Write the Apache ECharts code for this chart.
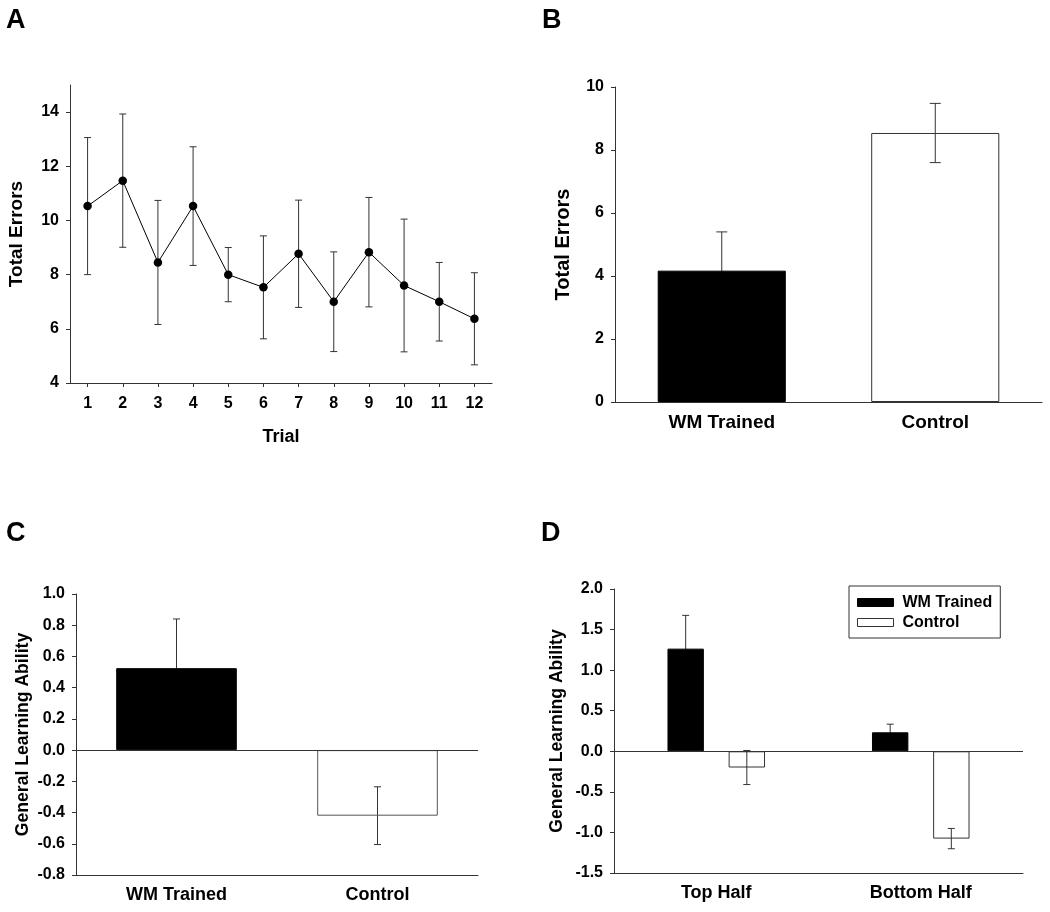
<!DOCTYPE html>
<html>
<head>
<meta charset="utf-8">
<script src="https://cdn.jsdelivr.net/npm/echarts@6/dist/echarts.min.js"></script>
<style>html,body{margin:0;padding:0;background:#fff;}#chart{width:1050px;height:912px;}</style>
</head>
<body>
<div id="chart"></div>
<script>
// ---- Data ----
var trials = ['1','2','3','4','5','6','7','8','9','10','11','12'];
var trialErrors = [10.53, 11.47, 8.45, 10.53, 8.0, 7.53, 8.77, 7.0, 8.83, 7.6, 7.0, 6.37];
var trialSE = [2.53, 2.46, 2.29, 2.19, 1.0, 1.9, 1.98, 1.84, 2.02, 2.45, 1.45, 1.7];
var aTicks = [4, 6, 8, 10, 12, 14];

var groups = ['WM Trained', 'Control'];
var bTotalErrors = [4.17, 8.54];
var bSE = [1.23, 0.94];

var cAbility = [0.525, -0.42];
var cSE = [0.315, 0.185];

var halves = ['Top Half', 'Bottom Half'];
var dWM = [1.265, 0.234];
var dWMSE = [0.41, 0.10];
var dControl = [-0.20, -1.076];
var dControlSE = [0.21, 0.125];

// ---- Styling helpers ----
var FONT = "'Liberation Sans', Arial, Helvetica, sans-serif";
var AX = '#333';
function errData(vals, errs) { return vals.map(function (v, i) { return [i, v, errs[i]]; }); }
function errRender(capHalf, offFrac) {
  return function (params, api) {
    var x = api.value(0), v = api.value(1), e = api.value(2);
    var hi = api.coord([x, v + e]);
    var lo = api.coord([x, v - e]);
    var off = 0;
    if (offFrac) { off = api.size([1, 0])[0] * offFrac; }
    var cx = hi[0] + off;
    var st = { stroke: AX, lineWidth: 1 };
    return {
      type: 'group',
      children: [
        { type: 'line', shape: { x1: cx, y1: hi[1], x2: cx, y2: lo[1] }, style: st },
        { type: 'line', shape: { x1: cx - capHalf, y1: hi[1], x2: cx + capHalf, y2: hi[1] }, style: st },
        { type: 'line', shape: { x1: cx - capHalf, y1: lo[1], x2: cx + capHalf, y2: lo[1] }, style: st }
      ]
    };
  };
}
function merge(base, opt) {
  for (var k in opt) {
    if (typeof opt[k] === 'object' && base[k] && !Array.isArray(opt[k])) {
      for (var j in opt[k]) base[k][j] = opt[k][j];
    } else base[k] = opt[k];
  }
  return base;
}
function valueAxis(gi, opt) {
  return merge({
    type: 'value', gridIndex: gi,
    nameLocation: 'middle', nameRotate: 90,
    nameTextStyle: { fontFamily: FONT, fontWeight: 'bold', fontSize: 18, color: '#000' },
    axisLine: { show: true, lineStyle: { color: AX, width: 1 } },
    axisTick: { show: true, length: 4, lineStyle: { color: AX } },
    axisLabel: { fontFamily: FONT, fontWeight: 'bold', fontSize: 16, color: '#000', margin: 11 },
    splitLine: { show: false }
  }, opt);
}
function catAxis(gi, cats, opt) {
  return merge({
    type: 'category', gridIndex: gi, data: cats, boundaryGap: true,
    axisLine: { show: true, onZero: false, lineStyle: { color: AX, width: 1 } },
    axisTick: { show: false },
    axisLabel: { fontFamily: FONT, fontWeight: 'bold', fontSize: 18, color: '#000', margin: 11 },
    splitLine: { show: false }
  }, opt);
}
var zeroLine = {
  silent: true, symbol: ['none', 'none'], animation: false,
  label: { show: false },
  lineStyle: { color: AX, width: 1, type: 'solid' },
  data: [{ yAxis: 0 }]
};
var fixed1 = function (v) { return v.toFixed(1); };

var chart = echarts.init(document.getElementById('chart'), null, { renderer: 'canvas' });
var option = {
  animation: false,
  backgroundColor: '#fff',
  graphic: [
    { type: 'text', left: 6, top: 7, style: { text: 'A', font: "bold 27px " + FONT, fill: '#000' } },
    { type: 'text', left: 542, top: 7, style: { text: 'B', font: "bold 27px " + FONT, fill: '#000' } },
    { type: 'text', left: 6, top: 520, style: { text: 'C', font: "bold 27px " + FONT, fill: '#000' } },
    { type: 'text', left: 541, top: 520, style: { text: 'D', font: "bold 27px " + FONT, fill: '#000' } }
  ],
  legend: {
    data: [
      { name: 'WM Trained', itemStyle: { color: '#000', borderColor: '#000', borderWidth: 1 } },
      { name: 'Control', itemStyle: { color: '#fff', borderColor: '#333', borderWidth: 1 } }
    ],
    orient: 'vertical', left: 849, top: 586,
    icon: 'rect', itemWidth: 36, itemHeight: 8, itemGap: 3,
    padding: [8, 8, 7, 8],
    borderColor: '#333', borderWidth: 1,
    selectedMode: false,
    textStyle: { fontFamily: FONT, fontWeight: 'bold', fontSize: 16, color: '#000', lineHeight: 17, padding: [0, 0, 0, 4] }
  },
  grid: [
    { left: 70, top: 85, width: 422, height: 298 },
    { left: 615, top: 87, width: 427, height: 315 },
    { left: 76, top: 594, width: 402, height: 281 },
    { left: 614, top: 589, width: 409, height: 284 }
  ],
  xAxis: [
    catAxis(0, trials, {
      name: 'Trial', nameLocation: 'middle', nameGap: 45,
      nameTextStyle: { fontFamily: FONT, fontWeight: 'bold', fontSize: 18, color: '#000' },
      axisTick: { show: true, alignWithLabel: true, length: 4, lineStyle: { color: AX } },
      axisLabel: { fontSize: 16, margin: 13 }
    }),
    catAxis(1, groups, { axisLabel: { fontSize: 19 } }),
    catAxis(2, groups, { axisLabel: { fontSize: 18 } }),
    catAxis(3, halves, { axisLabel: { fontSize: 18 } })
  ],
  yAxis: [
    valueAxis(0, {
      name: 'Total Errors', nameGap: 44, min: 4, max: 15, interval: 1,
      nameTextStyle: { fontSize: 19 },
      axisLabel: { customValues: aTicks },
      axisTick: { customValues: aTicks }
    }),
    valueAxis(1, { name: 'Total Errors', nameGap: 42, min: 0, max: 10, interval: 2, nameTextStyle: { fontSize: 20 } }),
    valueAxis(2, {
      name: 'General Learning Ability', nameGap: 44, min: -0.8, max: 1.0, interval: 0.2,
      nameTextStyle: { fontSize: 17.6 },
      axisLabel: { formatter: fixed1 }
    }),
    valueAxis(3, {
      name: 'General Learning Ability', nameGap: 48, min: -1.5, max: 2.0, interval: 0.5,
      nameTextStyle: { fontSize: 17.6 },
      axisLabel: { formatter: fixed1 }
    })
  ],
  series: [
    // Panel A
    {
      type: 'custom', name: 'A err', xAxisIndex: 0, yAxisIndex: 0, z: 2,
      renderItem: errRender(3.5), encode: { x: 0, y: 1 },
      data: errData(trialErrors, trialSE)
    },
    {
      type: 'line', name: 'A mean', xAxisIndex: 0, yAxisIndex: 0, z: 3,
      data: trialErrors, symbol: 'circle', symbolSize: 8.5,
      itemStyle: { color: '#000' }, lineStyle: { color: '#000', width: 1 }
    },
    // Panel B
    {
      type: 'custom', name: 'B err', xAxisIndex: 1, yAxisIndex: 1, z: 2,
      renderItem: errRender(5.5), encode: { x: 0, y: 1 },
      data: errData(bTotalErrors, bSE)
    },
    {
      type: 'bar', name: 'B bars', xAxisIndex: 1, yAxisIndex: 1, z: 3, barWidth: '60%',
      data: [
        { value: bTotalErrors[0], itemStyle: { color: '#000', borderColor: '#000', borderWidth: 1 } },
        { value: bTotalErrors[1], itemStyle: { color: 'rgba(255,255,255,0)', borderColor: '#333', borderWidth: 1 } }
      ]
    },
    // Panel C
    {
      type: 'custom', name: 'C err', xAxisIndex: 2, yAxisIndex: 2, z: 2,
      renderItem: errRender(3.5), encode: { x: 0, y: 1 },
      data: errData(cAbility, cSE)
    },
    {
      type: 'bar', name: 'C bars', xAxisIndex: 2, yAxisIndex: 2, z: 3, barWidth: '60%',
      markLine: zeroLine,
      data: [
        { value: cAbility[0], itemStyle: { color: '#000', borderColor: '#000', borderWidth: 1 } },
        { value: cAbility[1], itemStyle: { color: 'rgba(255,255,255,0)', borderColor: '#555', borderWidth: 1 } }
      ]
    },
    // Panel D
    {
      type: 'custom', name: 'D err WM', xAxisIndex: 3, yAxisIndex: 3, z: 2,
      renderItem: errRender(3.5, -0.178 * 1.68 / 2), encode: { x: 0, y: 1 },
      data: errData(dWM, dWMSE)
    },
    {
      type: 'custom', name: 'D err Control', xAxisIndex: 3, yAxisIndex: 3, z: 2,
      renderItem: errRender(3.5, 0.178 * 1.68 / 2), encode: { x: 0, y: 1 },
      data: errData(dControl, dControlSE)
    },
    {
      type: 'bar', name: 'WM Trained', xAxisIndex: 3, yAxisIndex: 3, z: 3,
      barWidth: '17.8%', barGap: '68%',
      itemStyle: { color: '#000', borderColor: '#000', borderWidth: 1 },
      markLine: zeroLine,
      data: dWM
    },
    {
      type: 'bar', name: 'Control', xAxisIndex: 3, yAxisIndex: 3, z: 3,
      barWidth: '17.8%', barGap: '68%',
      itemStyle: { color: 'rgba(255,255,255,0)', borderColor: '#333', borderWidth: 1 },
      data: dControl
    }
  ]
};
chart.setOption(option);
</script>
</body>
</html>
